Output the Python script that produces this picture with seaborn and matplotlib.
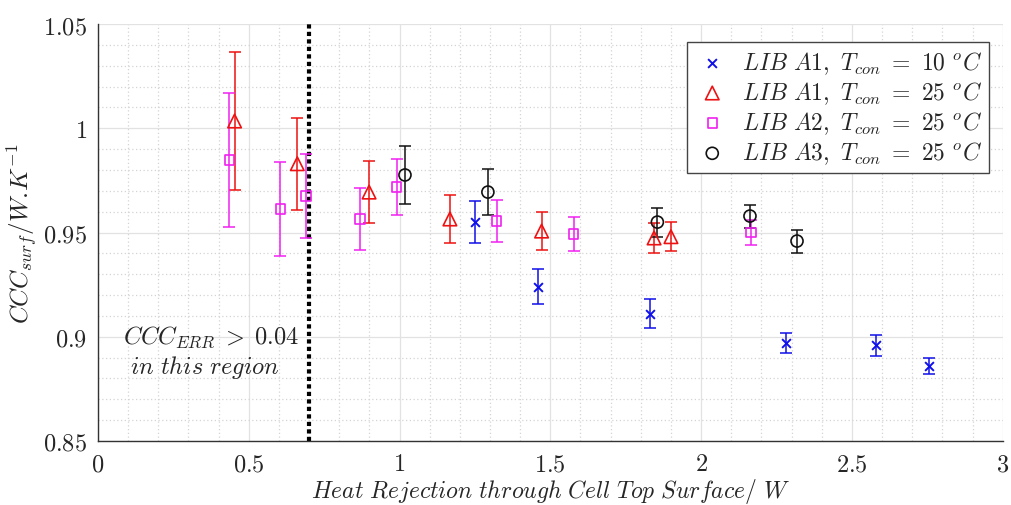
import numpy as np
import pandas as pd
import seaborn as sns
import matplotlib.pyplot as plt
from matplotlib.ticker import MultipleLocator, FuncFormatter

# LIB A1, T_con = 10 C
a1_10_x = [1.25, 1.46, 1.83, 2.28, 2.58, 2.755]
a1_10_y = [0.955, 0.924, 0.911, 0.897, 0.896, 0.886]
a1_10_err = [0.010, 0.0085, 0.007, 0.005, 0.005, 0.004]

# LIB A1, T_con = 25 C
a1_25_x = [0.453, 0.661, 0.899, 1.167, 1.471, 1.844, 1.90]
a1_25_y = [1.0035, 0.983, 0.9694, 0.9565, 0.9507, 0.9474, 0.948]
a1_25_err = [0.033, 0.022, 0.015, 0.0115, 0.009, 0.007, 0.007]

# LIB A2, T_con = 25 C
a2_25_x = [0.436, 0.605, 0.69, 0.869, 0.991, 1.322, 1.577, 2.165]
a2_25_y = [0.9848, 0.9613, 0.9675, 0.9565, 0.9718, 0.9555, 0.9493, 0.950]
a2_25_err = [0.032, 0.0225, 0.020, 0.015, 0.0135, 0.010, 0.008, 0.006]

# LIB A3, T_con = 25 C
a3_25_x = [1.018, 1.293, 1.855, 2.162, 2.318]
a3_25_y = [0.9776, 0.9694, 0.955, 0.9579, 0.9459]
a3_25_err = [0.014, 0.011, 0.007, 0.0055, 0.0055]

labels = [r'$LIB\ A1,\ T_{con}\ =\ 10\ ^oC$',
          r'$LIB\ A1,\ T_{con}\ =\ 25\ ^oC$',
          r'$LIB\ A2,\ T_{con}\ =\ 25\ ^oC$',
          r'$LIB\ A3,\ T_{con}\ =\ 25\ ^oC$']

sns.set_theme(style='white')
plt.rcParams['mathtext.fontset'] = 'cm'
plt.rcParams['font.family'] = ['DejaVu Serif']

fig = plt.figure(figsize=(10.12, 5.06), dpi=100)
ax = fig.add_axes([0.0968, 0.1265, 0.894, 0.824])

series = [
    (a1_10_x, a1_10_y, a1_10_err, 'x', '#1010e8', 40, labels[0]),
    (a1_25_x, a1_25_y, a1_25_err, '^', '#ee1111', 95, labels[1]),
    (a2_25_x, a2_25_y, a2_25_err, 's', '#f020f0', 45, labels[2]),
    (a3_25_x, a3_25_y, a3_25_err, 'o', '#111111', 75, labels[3]),
]

for xs, ys, es, mk, col, sz, lab in series:
    df = pd.DataFrame({'x': xs, 'y': ys, 'e': es})
    ax.errorbar(df.x, df.y, yerr=df.e, fmt='none', ecolor=col, elinewidth=1.1,
                capsize=4.5, capthick=1.1, zorder=3)
    if mk == 'x':
        sns.scatterplot(data=df, x='x', y='y', marker=mk, s=sz, color=col,
                        linewidth=1.4, label=lab, ax=ax, zorder=4)
    else:
        sns.scatterplot(data=df, x='x', y='y', marker=mk, s=sz, facecolor='none',
                        edgecolor=col, linewidth=1.2, label=lab, ax=ax, zorder=4)

ax.axvline(0.7, color='black', linestyle=(0, (1, 0.8)), linewidth=3, zorder=2)

ax.text(0.083, 0.9, r'$CCC_{ERR}\;>\;0.04$', fontsize=17.5, ha='left', va='center')
ax.text(0.106, 0.8855, r'$in\ this\ region$', fontsize=17.5, ha='left', va='center')

ax.set_xlim(0, 3)
ax.set_ylim(0.85, 1.05)
ax.xaxis.set_major_locator(MultipleLocator(0.5))
ax.xaxis.set_minor_locator(MultipleLocator(0.1))
ax.yaxis.set_major_locator(MultipleLocator(0.05))
ax.yaxis.set_minor_locator(MultipleLocator(0.01))
ax.xaxis.set_major_formatter(FuncFormatter(lambda v, p: '$%g$' % round(v, 2)))
ax.yaxis.set_major_formatter(FuncFormatter(lambda v, p: '$%g$' % round(v, 2)))

ax.grid(which='major', color='#e2e2e2', linewidth=0.9, linestyle='-')
ax.grid(which='minor', color='#d4d4d4', linewidth=0.9, linestyle=(0, (1, 2)))
ax.set_axisbelow(True)

for s in ['top', 'right']:
    ax.spines[s].set_visible(False)
for s in ['left', 'bottom']:
    ax.spines[s].set_color('#333333')
    ax.spines[s].set_linewidth(1.0)
ax.tick_params(axis='both', which='major', direction='in', length=6, width=1,
               color='#333333', labelsize=17.5, pad=8)
ax.tick_params(axis='both', which='minor', length=0)

ax.set_xlabel(r'$Heat\ Rejection\ through\ Cell\ Top\ Surface/\ W$', fontsize=17, labelpad=1)
ax.set_ylabel(r'$CCC_{surf}/W.\!K^{-1}$', fontsize=18, labelpad=2)

leg = ax.legend(loc='upper right', bbox_to_anchor=(0.998, 0.985), fontsize=17,
                frameon=True, fancybox=False, edgecolor='#444444', framealpha=1,
                handletextpad=0.5, borderpad=0.3, labelspacing=0.15, handlelength=1.5)
leg.get_frame().set_linewidth(1.0)

fig.savefig('out.png', dpi=100)
